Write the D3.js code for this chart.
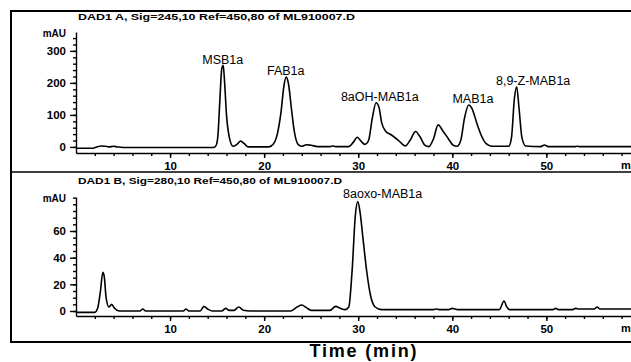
<!DOCTYPE html>
<html>
<head>
<meta charset="utf-8">
<script src="https://cdn.jsdelivr.net/npm/d3@7"></script>
<style>
  body { margin: 0; background: #fff; }
  svg { display: block; font-family: "Liberation Sans", Arial, sans-serif; }
  .axis path, .axis line { stroke: #000; stroke-width: 1.4; }
  .axis text { font-size: 11.5px; font-weight: bold; fill: #000; }
</style>
</head>
<body>
<div id="chart"></div>
<script>
// trace A (sig 245): [time min, mAU]
var traceA = [
  [0.0,-4],[1.8,-4],[2.2,0],[2.7,3],[3.1,2],[3.5,0],[4.0,2],[4.4,0],[5.0,-2],
  [14.6,-2],[14.9,5],[15.1,40],[15.3,150],[15.5,245],[15.65,255],[15.8,200],[16.0,100],
  [16.3,30],[16.7,2],[17.1,8],[17.5,18],[17.9,10],[18.3,0],[20.5,0],[21.0,10],[21.4,40],
  [21.8,110],[22.1,190],[22.35,218],[22.6,195],[22.9,120],[23.2,50],[23.6,8],[24.0,2],
  [24.5,7],[25.0,5],[25.7,1],[27.0,1],[27.3,3],[27.6,1],[29.0,1],[29.5,15],[29.9,30],
  [30.3,18],[30.7,8],[31.1,20],[31.5,90],[31.9,138],[32.2,125],[32.5,75],[32.9,50],
  [33.5,38],[34.3,20],[35.0,3],[35.5,20],[36.1,48],[36.6,30],[37.1,5],[37.5,1],[38.0,25],
  [38.5,69],[39.0,50],[39.6,25],[40.1,5],[40.5,2],[40.9,20],[41.3,90],[41.75,131],
  [42.1,120],[42.6,75],[43.1,35],[43.6,10],[44.2,2],[46.0,2],[46.3,30],[46.6,150],
  [46.85,188],[47.1,120],[47.4,30],[47.8,3],[49.4,1],[49.8,6],[50.2,1],[53.0,1],
  [53.3,2],[53.6,1],[59.5,1]
];
// trace B (sig 280)
var traceB = [
  [0.0,-1],[2.0,-1],[2.3,2],[2.6,15],[2.85,29],[3.0,26],[3.2,10],[3.5,3],[3.8,5],[4.1,2],
  [4.6,0],[6.8,0],[7.1,1.5],[7.4,0],[11.4,0],[11.7,1.5],[12.0,0],[13.2,0],[13.6,3.5],
  [14.0,1.5],[14.5,0],[15.5,0],[15.9,2],[16.3,0.5],[16.8,0.5],[17.3,3],[17.8,0.5],
  [18.5,0],[22.8,0],[23.5,3],[24.0,4.5],[24.5,2.5],[25.0,0.5],[27.0,0.5],[27.6,3.5],
  [28.1,2],[28.6,1],[29.0,3],[29.35,30],[29.7,72],[29.95,82],[30.2,74],[30.5,55],
  [30.9,30],[31.3,12],[31.8,3],[32.5,1],[38.0,1],[38.3,1.5],[38.6,1],[39.6,1],[40.0,2],
  [40.6,1],[45.0,1],[45.5,7.5],[45.8,3],[46.1,1],[50.7,1],[51.0,2],[51.3,1],[52.8,1],
  [53.1,2],[53.5,1.5],[54.1,1.5],[55.1,1.5],[55.4,3],[55.7,1.5],[57.0,1.5],[59.5,1.5]
];

var labelsA = ["MSB1a", "FAB1a", "8aOH-MAB1a", "MAB1a", "8,9-Z-MAB1a"];
var labelTimeA = [15.6, 22.3, 32.3, 42.2, 48.6];
var labelValA = [260, 224, 143, 136, 194];
var labelsB = ["8aoxo-MAB1a"];
var labelTimeB = [32.6];
var labelValB = [85];

var xMajor = [10, 20, 30, 40, 50];
var yMajorA = [0, 100, 200, 300];
var yMajorB = [0, 20, 40, 60];
var titleA = "DAD1 A, Sig=245,10 Ref=450,80 of ML910007.D";
var titleB = "DAD1 B, Sig=280,10 Ref=450,80 of ML910007.D";

var W = 631, H = 362;
var svg = d3.select("#chart").append("svg").attr("width", W).attr("height", H);

var x = d3.scaleLinear().domain([0, 59]).range([76, 631]);

function panel(cfg) {
  var y = d3.scaleLinear().domain(cfg.ydom).range(cfg.yrange);
  var g = svg.append("g");

  // minor ticks first
  g.append("g").attr("class", "axis")
   .attr("transform", "translate(76,0)")
   .call(d3.axisLeft(y).tickValues(cfg.yMinor).tickSize(3).tickFormat(""))
   .select(".domain").remove();
  g.append("g").attr("class", "axis")
   .attr("transform", "translate(76,0)")
   .call(d3.axisLeft(y).tickValues(cfg.yMajor).tickSize(6).tickSizeOuter(0).tickPadding(4));

  g.append("g").attr("class", "axis")
   .attr("transform", "translate(0," + cfg.yrange[0] + ")")
   .call(d3.axisBottom(x).tickValues(d3.range(2, 59, 2)).tickSize(3).tickFormat(""))
   .select(".domain").remove();
  g.append("g").attr("class", "axis")
   .attr("transform", "translate(0," + cfg.yrange[0] + ")")
   .call(d3.axisBottom(x).tickValues(xMajor).tickSize(5).tickSizeOuter(0).tickPadding(4));

  g.append("text").attr("x", 66).attr("y", y(cfg.ydom[1]) + 5)
   .attr("text-anchor", "end").attr("font-size", 10).attr("font-weight", "bold")
   .text("mAU");
  g.append("text").attr("x", 621).attr("y", cfg.yrange[0] + 16)
   .attr("font-size", 11).attr("font-weight", "bold").text("min");

  g.append("text").attr("x", 78).attr("y", cfg.titleY)
   .attr("font-size", 9).attr("font-weight", "bold")
   .attr("textLength", cfg.titleLen).attr("lengthAdjust", "spacingAndGlyphs")
   .text(cfg.title);

  var line = d3.line()
    .x(function (d) { return x(d[0]); })
    .y(function (d) { return y(d[1]); })
    .curve(d3.curveMonotoneX);
  g.append("path").datum(cfg.data)
   .attr("fill", "none").attr("stroke", "#000").attr("stroke-width", 1.6)
   .attr("d", line);

  g.selectAll(".lab").data(cfg.labels).enter().append("text")
   .attr("x", function (d, i) { return x(cfg.labelTime[i]); })
   .attr("y", function (d, i) { return y(cfg.labelVal[i]); })
   .attr("text-anchor", "middle").attr("font-size", 12.5)
   .text(function (d) { return d; });
}

panel({ data: traceA, ydom: [-19, 359], yrange: [153, 32],
        yMajor: yMajorA, yMinor: d3.range(0, 360, 20),
        labels: labelsA, labelTime: labelTimeA, labelVal: labelValA,
        title: titleA, titleY: 20, titleLen: 277 });
panel({ data: traceB, ydom: [-3.75, 85.5], yrange: [316, 197],
        yMajor: yMajorB, yMinor: d3.range(0, 86, 5),
        labels: labelsB, labelTime: labelTimeB, labelVal: labelValB,
        title: titleB, titleY: 184, titleLen: 264 });

// frame
svg.append("line").attr("x1", 10).attr("x2", W).attr("y1", 11).attr("y2", 11)
   .attr("stroke", "#000").attr("stroke-width", 2);
svg.append("line").attr("x1", 11).attr("x2", 11).attr("y1", 10).attr("y2", 343)
   .attr("stroke", "#000").attr("stroke-width", 2);
svg.append("line").attr("x1", 10).attr("x2", W).attr("y1", 172).attr("y2", 172)
   .attr("stroke", "#000").attr("stroke-width", 1.5);
svg.append("line").attr("x1", 10).attr("x2", W).attr("y1", 342).attr("y2", 342)
   .attr("stroke", "#000").attr("stroke-width", 2);

svg.append("text").attr("x", 363).attr("y", 357)
   .attr("text-anchor", "middle").attr("font-size", 18).attr("font-weight", "bold")
   .attr("textLength", 107).attr("lengthAdjust", "spacing")
   .text("Time (min)");
</script>
</body>
</html>
